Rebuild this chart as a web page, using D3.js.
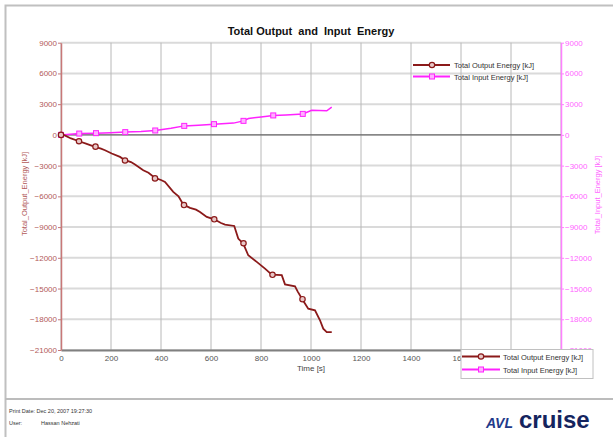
<!DOCTYPE html>
<html>
<head>
<meta charset="utf-8">
<script src="https://cdn.jsdelivr.net/npm/d3@7"></script>
<style>
body { margin: 0; background: #fff; }
svg text { font-family: "Liberation Sans", Arial, sans-serif; }
</style>
</head>
<body>
<div id="chart"></div>
<script>
"use strict";

//time [s] and total output energy [kJ] (line)
var outTime = [0, 15, 40, 72, 100, 136, 160, 176, 203, 236, 256, 280, 296, 329, 350, 376, 400, 416, 449, 470, 489, 516, 540, 556, 583, 613, 640, 656, 693, 709, 729, 749, 783, 816, 843, 883, 896, 936, 947, 965, 989, 1016, 1036, 1049, 1063, 1083];
var outValue = [0, -50, -350, -620, -850, -1170, -1350, -1500, -1820, -2150, -2470, -2650, -2890, -3450, -3700, -4200, -4400, -4590, -5570, -6000, -6800, -7130, -7300, -7520, -8010, -8240, -8600, -8760, -8890, -10120, -10610, -11750, -12400, -13050, -13640, -13700, -14590, -14780, -15300, -16050, -16960, -17130, -18100, -18920, -19250, -19250];

//output energy markers
var outMarkTime = [0, 72, 138, 256, 376, 492, 613, 730, 846, 966];
var outMarkValue = [0, -620, -1150, -2500, -4250, -6850, -8240, -10580, -13660, -16040];

//time [s] and total input energy [kJ] (line)
var inTime = [0, 73, 140, 200, 257, 320, 377, 440, 493, 550, 612, 690, 730, 750, 800, 849, 900, 967, 1003, 1063, 1083];
var inValue = [0, 130, 170, 220, 270, 330, 430, 650, 880, 950, 1050, 1150, 1370, 1600, 1750, 1900, 1950, 2050, 2400, 2350, 2700];

//input energy markers
var inMarkTime = [0, 73, 140, 257, 377, 493, 612, 730, 849, 967];
var inMarkValue = [0, 130, 170, 270, 430, 880, 1050, 1370, 1900, 2050];

//axis ticks
var xTicks = [0, 200, 400, 600, 800, 1000, 1200, 1400, 1600, 1800, 2000];
var yTicks = [9000, 6000, 3000, 0, -3000, -6000, -9000, -12000, -15000, -18000, -21000];

var seriesNames = ["Total Output Energy [kJ]", "Total Input Energy [kJ]"];

var outColor = "#8b1a1a";
var inColor = "#ff22ff";

function drawChart()
{
    var W = 613, H = 437;
    var left = 61, right = 561, top = 42.7, bottom = 350;

    var svg = d3.select("#chart")
        .append("svg")
        .attr("width", W)
        .attr("height", H);

    //page frame
    svg.append("rect")
        .attr("x", 5.5).attr("y", 5.5)
        .attr("width", W + 10).attr("height", H)
        .attr("fill", "#fff")
        .attr("stroke", "#c0c0c0")
        .attr("stroke-width", 2);

    //scales
    var x = d3.scaleLinear().domain([0, 2000]).range([left, right]);
    var y = d3.scaleLinear().domain([-21000, 9000]).range([bottom, top]);
    var y2 = d3.scaleLinear().domain([-21000, 9000]).range([bottom, top]);
    var fmt = d3.format("d");

    //horizontal grid
    svg.append("g")
        .selectAll("line")
        .data(yTicks)
        .enter()
        .append("line")
        .attr("x1", left).attr("x2", right)
        .attr("y1", function(d) { return y(d); })
        .attr("y2", function(d) { return y(d); })
        .attr("stroke", "#dadada")
        .attr("stroke-width", 2);

    //vertical grid
    svg.append("g")
        .selectAll("line")
        .data(xTicks)
        .enter()
        .append("line")
        .attr("x1", function(d) { return x(d); })
        .attr("x2", function(d) { return x(d); })
        .attr("y1", top).attr("y2", bottom)
        .attr("stroke", "#b8b8b8")
        .attr("stroke-width", 1);

    //zero line
    svg.append("line")
        .attr("x1", left).attr("x2", right)
        .attr("y1", y(0)).attr("y2", y(0))
        .attr("stroke", "#555")
        .attr("stroke-width", 1);

    //x axis
    var xAxis = svg.append("g")
        .attr("transform", "translate(0," + bottom + ")")
        .call(d3.axisBottom(x).tickValues(xTicks).tickFormat(fmt).tickSize(0).tickPadding(5));
    xAxis.select(".domain").attr("stroke", "#808080").attr("stroke-width", 2);
    xAxis.selectAll("text")
        .attr("fill", "#555")
        .style("font-size", "8px");

    //left y axis
    var yAxis = svg.append("g")
        .attr("transform", "translate(" + left + ",0)")
        .call(d3.axisLeft(y).tickValues(yTicks).tickFormat(fmt).tickSize(3).tickSizeOuter(0).tickPadding(1));
    yAxis.select(".domain").attr("stroke", "#c87878").attr("stroke-width", 1.5);
    yAxis.selectAll("line").attr("stroke", "#c87878");
    yAxis.selectAll("text")
        .attr("fill", "#b25a5a")
        .style("font-size", "8px");

    //right y axis
    var y2Axis = svg.append("g")
        .attr("transform", "translate(" + right + ",0)")
        .call(d3.axisRight(y2).tickValues(yTicks).tickFormat(fmt).tickSize(3).tickSizeOuter(0).tickPadding(1));
    y2Axis.select(".domain").attr("stroke", "#ff80ff").attr("stroke-width", 1.5);
    y2Axis.selectAll("line").attr("stroke", "#ff80ff");
    y2Axis.selectAll("text")
        .attr("fill", "#ff66ff")
        .style("font-size", "8px");

    //title
    svg.append("text")
        .attr("x", 311)
        .attr("y", 35)
        .style("text-anchor", "middle")
        .style("font-size", "11px")
        .style("font-weight", "bold")
        .style("white-space", "pre")
        .attr("fill", "#111")
        .text("Total Output  and  Input  Energy");

    //axis titles
    svg.append("text")
        .attr("transform", "translate(27," + 194 + ") rotate(-90)")
        .style("text-anchor", "middle")
        .style("font-size", "7.5px")
        .attr("fill", "#b25a5a")
        .text("Total_Output_Energy [kJ]");

    svg.append("text")
        .attr("transform", "translate(600," + 195 + ") rotate(-90)")
        .style("text-anchor", "middle")
        .style("font-size", "7.5px")
        .attr("fill", "#ff66ff")
        .text("Total_Input_Energy [kJ]");

    svg.append("text")
        .attr("x", 311)
        .attr("y", 371)
        .style("text-anchor", "middle")
        .style("font-size", "8px")
        .attr("fill", "#444")
        .text("Time [s]");

    //lines
    var outData = outTime.map(function(t, i) { return {t: t, v: outValue[i]}; });
    var inData = inTime.map(function(t, i) { return {t: t, v: inValue[i]}; });

    var line1 = d3.line()
        .x(function(d) { return x(d.t); })
        .y(function(d) { return y(d.v); });
    var line2 = d3.line()
        .x(function(d) { return x(d.t); })
        .y(function(d) { return y2(d.v); });

    svg.append("path")
        .datum(inData)
        .attr("d", line2)
        .attr("fill", "none")
        .attr("stroke", inColor)
        .attr("stroke-width", 1.5);

    svg.append("path")
        .datum(outData)
        .attr("d", line1)
        .attr("fill", "none")
        .attr("stroke", outColor)
        .attr("stroke-width", 1.8);

    //markers
    var inMarks = inMarkTime.map(function(t, i) { return {t: t, v: inMarkValue[i]}; });
    var outMarks = outMarkTime.map(function(t, i) { return {t: t, v: outMarkValue[i]}; });

    svg.append("g")
        .selectAll("rect")
        .data(inMarks)
        .enter()
        .append("rect")
        .attr("x", function(d) { return x(d.t) - 2.5; })
        .attr("y", function(d) { return y2(d.v) - 2.5; })
        .attr("width", 5)
        .attr("height", 5)
        .attr("fill", "#ffb0ff")
        .attr("stroke", inColor)
        .attr("stroke-width", 1);

    svg.append("g")
        .selectAll("circle")
        .data(outMarks)
        .enter()
        .append("circle")
        .attr("cx", function(d) { return x(d.t); })
        .attr("cy", function(d) { return y(d.v); })
        .attr("r", 2.7)
        .attr("fill", "#e8c8c8")
        .attr("stroke", outColor)
        .attr("stroke-width", 1.2);

    //legends
    function legend(gx, gy, boxed)
    {
        var g = svg.append("g").attr("transform", "translate(" + gx + "," + gy + ")");
        if (boxed) {
            g.append("rect")
                .attr("x", 0).attr("y", 0)
                .attr("width", 132).attr("height", 29)
                .attr("fill", "#fff")
                .attr("stroke", "#c0c0c0")
                .attr("stroke-width", 1);
        }
        var rows = g.selectAll(".legend")
            .data(seriesNames)
            .enter()
            .append("g")
            .attr("class", "legend")
            .attr("transform", function(d, i) {
                return "translate(0," + (boxed ? 7 + i * 13 : 5 + i * 11.5) + ")";
            });
        rows.append("line")
            .attr("x1", 1).attr("x2", boxed ? 39 : 38)
            .attr("y1", 0).attr("y2", 0)
            .attr("stroke", function(d, i) { return i === 0 ? outColor : inColor; })
            .attr("stroke-width", 1.8);
        rows.filter(function(d, i) { return i === 0; })
            .append("circle")
            .attr("cx", 20).attr("cy", 0).attr("r", 2.7)
            .attr("fill", "#e8c8c8")
            .attr("stroke", outColor)
            .attr("stroke-width", 1.2);
        rows.filter(function(d, i) { return i === 1; })
            .append("rect")
            .attr("x", 17.5).attr("y", -2.5)
            .attr("width", 5).attr("height", 5)
            .attr("fill", "#ffb0ff")
            .attr("stroke", inColor);
        rows.append("text")
            .attr("x", 42)
            .attr("y", 3)
            .style("font-size", "7.5px")
            .attr("fill", "#333")
            .text(function(d) { return d; });
    }
    legend(412, 60, false);
    legend(461, 349.5, true);

    //footer
    svg.append("line")
        .attr("x1", 5).attr("x2", W)
        .attr("y1", 399).attr("y2", 399)
        .attr("stroke", "#bcbcbc")
        .attr("stroke-width", 2);

    svg.append("text")
        .attr("x", 9).attr("y", 413)
        .style("font-size", "5.5px")
        .attr("fill", "#333")
        .text("Print Date:  Dec 20, 2007 19:27:30");
    svg.append("text")
        .attr("x", 9).attr("y", 425)
        .style("font-size", "5.5px")
        .attr("fill", "#333")
        .text("User:");
    svg.append("text")
        .attr("x", 41).attr("y", 425)
        .style("font-size", "5.5px")
        .attr("fill", "#333")
        .text("Hassan Nehzati");

    //logo
    svg.append("text")
        .attr("x", 486).attr("y", 428)
        .style("font-size", "14px")
        .style("font-weight", "bold")
        .style("font-style", "italic")
        .attr("fill", "#1f3a8a")
        .text("AVL");
    svg.append("text")
        .attr("x", 519).attr("y", 428)
        .style("font-size", "24px")
        .style("font-weight", "bold")
        .attr("fill", "#14245e")
        .text("cruise");
}

window.addEventListener("load", function() {
    drawChart();
});
</script>
</body>
</html>
